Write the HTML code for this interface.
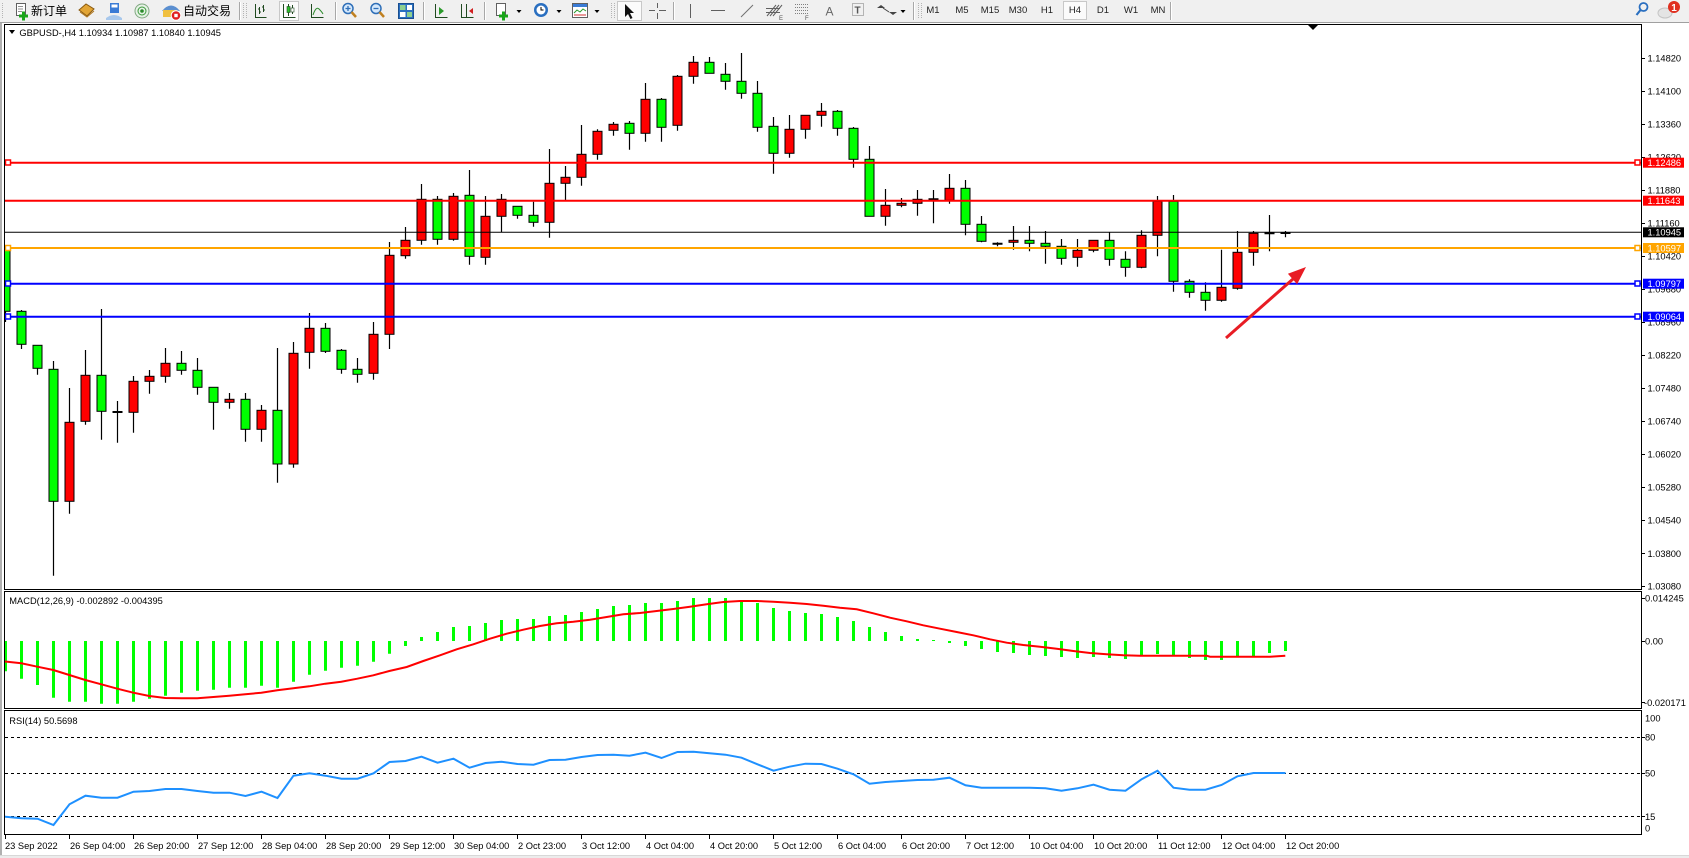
<!DOCTYPE html>
<html><head><meta charset="utf-8"><style>
html,body{margin:0;padding:0;background:#fff;}
body{width:1689px;height:858px;overflow:hidden;}
svg{display:block;}
</style></head><body>
<svg xmlns="http://www.w3.org/2000/svg" width="1689" height="858" viewBox="0 0 1689 858" font-family="'Liberation Sans', sans-serif">
<defs>
<clipPath id="cm"><rect x="5" y="25" width="1636" height="564"/></clipPath>
<clipPath id="cd"><rect x="5" y="592" width="1636" height="116"/></clipPath>
<clipPath id="cr"><rect x="5" y="712" width="1636" height="122"/></clipPath>
<style>
.r{fill:#ff0000;stroke:#000;stroke-width:1}
.g{fill:#00ff00;stroke:#000;stroke-width:1}
.ax{font-size:9.3px;fill:#000}
.tb{font-size:9.5px;fill:#222}
</style>
</defs>

<!-- ================= TOOLBAR ================= -->
<rect x="0" y="0" width="1689" height="22" fill="#f0f0f0"/>
<line x1="0" y1="22.5" x2="1689" y2="22.5" stroke="#a0a0a0"/>
<g stroke="#b4b4b4" stroke-dasharray="1 1">
<path d="M2.5 3v16M611.5 3v16M614.5 3v16M918.5 3v16M921.5 3v16M243.5 3v16M246.5 3v16"/>
</g>
<!-- new order -->
<rect x="16.5" y="3.5" width="9" height="12" fill="#fff" stroke="#606060"/>
<path d="M18 6.5h5M18 9h5M18 11.5h4" stroke="#909090"/>
<path d="M19 16h9M23.5 11.5v9" stroke="#1aa51a" stroke-width="3"/>
<text x="31" y="15" font-size="12" font-family="'Liberation Sans','Noto Sans CJK SC',sans-serif" fill="#000">新订单</text>
<!-- gold book -->
<path d="M79 10 L86 4 L94 9 L87 16 Z" fill="#e2a535" stroke="#8a5a10"/>
<path d="M80 12 L87 17 L94 11" fill="none" stroke="#b07820"/>
<!-- blue people -->
<path d="M106 18 q8 -6 16 0 v2 h-16z" fill="#a8c8ec"/>
<rect x="110" y="3" width="9" height="10" fill="#3a7bd5"/>
<rect x="111.5" y="4.5" width="6" height="3" fill="#fff"/>
<!-- antenna -->
<circle cx="142" cy="11" r="7" fill="#e6f2e6" stroke="#80a880"/>
<circle cx="142" cy="11" r="4" fill="none" stroke="#3a9a3a"/>
<circle cx="142" cy="11" r="1.8" fill="#2a8a2a"/>
<!-- auto trading -->
<path d="M162 11 q9 -11 18 0z" fill="#5b8fd0"/>
<rect x="163" y="10" width="14" height="7" fill="#f0c040"/>
<circle cx="176" cy="15.5" r="4.8" fill="#e02020" stroke="#fff"/>
<rect x="174.3" y="13.8" width="3.4" height="3.4" fill="#fff"/>
<text x="183" y="15" font-size="12" font-family="'Liberation Sans','Noto Sans CJK SC',sans-serif" fill="#000">自动交易</text>
<!-- separators -->
<g stroke="#a8a8a8"><path d="M239.5 2v18M335.5 2v18M423.5 2v18M484.5 2v18M673.5 2v18M913.5 2v18M1170.5 2v18"/></g>
<g stroke="#ffffff"><path d="M240.5 2v18M336.5 2v18M424.5 2v18M485.5 2v18M674.5 2v18M914.5 2v18M1171.5 2v18"/></g>
<!-- chart types -->
<path d="M255.5 4v13.5h11 M259.5 7v7 M258 9h1.5 M259.5 12h1.5 M263.5 5v7 M262 7h1.5 M263.5 10h1.5" stroke="#204a20" fill="none"/>
<rect x="279.5" y="1.5" width="19" height="19" fill="#fbfbfb" stroke="#c8c8c8"/>
<path d="M283.5 4v13.5h12" stroke="#204a20" fill="none"/>
<path d="M288.5 4v12M292.5 5v9" stroke="#204a20"/>
<rect x="287" y="6.5" width="3" height="6" fill="#2ac02a" stroke="#204a20" stroke-width="0.6"/>
<rect x="291" y="8" width="3" height="4" fill="#fff" stroke="#204a20" stroke-width="0.6"/>
<path d="M311.5 4v13.5h12" stroke="#204a20" fill="none"/>
<path d="M313 15 q3 -9 6 -6 t4 5" stroke="#2a8a2a" fill="none"/>
<!-- zoom in/out -->
<circle cx="348" cy="8.5" r="5" fill="#d4e8fc" stroke="#2f6fb8" stroke-width="1.5"/>
<path d="M351.5 12l4.5 5" stroke="#c08020" stroke-width="2.5"/>
<path d="M345.5 8.5h5M348 6v5" stroke="#2f6fb8" stroke-width="1.3"/>
<circle cx="376" cy="8.5" r="5" fill="#d4e8fc" stroke="#2f6fb8" stroke-width="1.5"/>
<path d="M379.5 12l4.5 5" stroke="#c08020" stroke-width="2.5"/>
<path d="M373.5 8.5h5" stroke="#2f6fb8" stroke-width="1.3"/>
<!-- tile -->
<rect x="398.5" y="3.5" width="15" height="15" fill="#2a6fc0" stroke="#1a4f90"/>
<rect x="400" y="5" width="5.5" height="5" fill="#8fd08f"/><rect x="407" y="5" width="5" height="5" fill="#fff"/>
<rect x="400" y="12" width="5.5" height="5" fill="#fff"/><rect x="407" y="12" width="5" height="5" fill="#8fd08f"/>
<!-- autoscroll / shift -->
<path d="M435.5 4v13.5h12" stroke="#204a20" fill="none"/>
<path d="M439 7l5 4-5 4z" fill="#2a9a2a"/>
<path d="M461.5 4v13.5h12 M466.5 4v13" stroke="#204a20" fill="none"/>
<path d="M473 8l-4 3 4 3z" fill="#d02020"/>
<!-- new chart -->
<rect x="496.5" y="3.5" width="9" height="12" fill="#fff" stroke="#606060"/>
<path d="M499 16h9M503.5 11.5v9" stroke="#1aa51a" stroke-width="3"/>
<path d="M516.5 10h5l-2.5 3z" fill="#000"/>
<!-- clock -->
<circle cx="541" cy="10" r="7" fill="#2a6fc0"/>
<circle cx="541" cy="10" r="4.5" fill="#fff"/>
<path d="M541 7v3h2.5" stroke="#000" fill="none"/>
<path d="M556.5 10h5l-2.5 3z" fill="#000"/>
<!-- templates -->
<rect x="572.5" y="3.5" width="15" height="14" fill="#fff" stroke="#606060"/>
<rect x="573" y="4" width="14" height="3" fill="#3a7bd5"/>
<path d="M574 13l3-3 3 2 3-3 3 2" stroke="#2a9a2a" fill="none"/>
<path d="M574 15h12" stroke="#d03030"/>
<path d="M594.5 10h5l-2.5 3z" fill="#000"/>
<!-- cursor -->
<rect x="617.5" y="1.5" width="24" height="19" fill="#fbfbfb" stroke="#c8c8c8"/>
<path d="M625 4v13l3-3 2.5 5 2-1-2.5-5h4z" fill="#111"/>
<!-- crosshair -->
<path d="M649 10.5h6M659 10.5h7M657.5 3v5M657.5 13v6" stroke="#606060"/>
<!-- line tools -->
<path d="M690.5 4v14" stroke="#606060"/>
<path d="M711 10.5h14" stroke="#606060"/>
<path d="M741 17l12-12" stroke="#707070"/>
<path d="M767 16l9-11M770 16l9-11M773 16l9-11M766 8.5h14M766 12.5h14" stroke="#606060"/>
<text x="779" y="20" font-size="6" fill="#555">E</text>
<path d="M795 4.5h13M795 7.5h13M795 10.5h13M795 13.5h13" stroke="#808080" stroke-dasharray="1 1"/>
<text x="805" y="20" font-size="6" fill="#555">F</text>
<text x="825.5" y="15.5" font-size="12" fill="#666">A</text>
<rect x="852.5" y="3.5" width="11" height="12" fill="none" stroke="#777" stroke-dasharray="1 1"/>
<text x="854.5" y="13.5" font-size="10" font-weight="bold" fill="#555">T</text>
<path d="M881 5l4 3h-8zM893 15l-4-3h8z" fill="#444"/>
<path d="M883 8l6 4" stroke="#444"/>
<path d="M900.5 10h5l-2.5 3z" fill="#000"/>
<!-- timeframes -->
<rect x="1063.5" y="1.5" width="23" height="18" fill="#fbfbfb" stroke="#c8c8c8"/>
<g class="tb" text-anchor="middle">
<text x="933" y="13">M1</text><text x="962" y="13">M5</text><text x="990" y="13">M15</text>
<text x="1018" y="13">M30</text><text x="1047" y="13">H1</text><text x="1075" y="13">H4</text>
<text x="1103" y="13">D1</text><text x="1131" y="13">W1</text><text x="1158" y="13">MN</text>
</g>
<!-- search & notification -->
<circle cx="1643.5" cy="7" r="4" fill="none" stroke="#2a6fc0" stroke-width="1.8"/>
<path d="M1640.5 10l-4 5" stroke="#2a6fc0" stroke-width="2.2"/>
<ellipse cx="1665" cy="13" rx="7" ry="5" fill="#e4e4e4" stroke="#c4c4c4"/>
<circle cx="1674" cy="7" r="6" fill="#e03020"/>
<text x="1674" y="11" font-size="10" font-weight="bold" fill="#fff" text-anchor="middle">1</text>

<!-- ================= WINDOW ================= -->
<rect x="0" y="23" width="2" height="835" fill="#b0b0b0"/>
<rect x="0" y="855" width="1689" height="3" fill="#ececec"/>
<line x1="0" y1="855.5" x2="1689" y2="855.5" stroke="#d8d8d8"/>

<!-- ================= MAIN CHART ================= -->
<g clip-path="url(#cm)">
<path stroke="#000" stroke-width="1.2" fill="none" d="M5.5 246V322M21.5 310V349M37.5 345.3V374.7M53.5 361V575.7M69.5 388V513.7M85.5 350V424.7M101.5 309V439.7M117.5 401V442.7M133.5 376V432.7M149.5 370V393.7M165.5 348V382.7M181.5 351V374.7M197.5 358V394.7M213.5 387.3V429.7M229.5 393V408.7M245.5 393V441.7M261.5 405V441.7M277.5 348V482.7M293.5 342V467.7M309.5 313V368.7M325.5 323V353M341.5 349V373.7M357.5 358V382.7M373.5 322V379.7M389.5 242V349M405.5 227V258.7M421.5 184V244.7M437.5 196V244.7M453.5 193V240.7M469.5 170V264.7M485.5 196V264.7M501.5 194V232M517.5 206.3V218.7M533.5 201.7V226.7M549.5 149V237.7M565.5 166V200M581.5 125V185.7M597.5 129.3V159.7M613.5 122V135.7M629.5 121V149.7M645.5 83V141.7M661.5 98V141.7M677.5 75V130.7M693.5 56V83.7M709.5 57V73.3M725.5 63V89.7M741.5 53V98.7M757.5 81V131.7M773.5 117V173.7M789.5 115V157.7M805.5 115.3V138.7M821.5 103V126.7M837.5 110V135.7M853.5 127V167.7M869.5 146V216.3M885.5 189V225.7M901.5 198V207.3M917.5 190V215.7M933.5 190V223.3M949.5 174V203.7M965.5 180V235.3M981.5 216V242.3M997.5 242.3V246.3M1013.5 226V249.7M1029.5 226V251.3M1045.5 231V263.7M1061.5 239V264.7M1077.5 239V266.7M1093.5 240.3V252.3M1109.5 232.3V265.7M1125.5 251.3V276.7M1141.5 230.3V268.3M1157.5 196V256.3M1173.5 195V291.7M1189.5 279.3V297.7M1205.5 282.3V310.7M1221.5 249.7V301.7M1237.5 231V289.7M1253.5 231V265.7M1269.5 215V251.3M1285.5 231V237.3"/>
<rect class="g" x="1" y="250" width="9" height="61.3"/>
<rect class="g" x="17" y="311.3" width="9" height="33"/>
<rect class="g" x="33" y="345.3" width="9" height="23"/>
<rect class="g" x="49" y="369.3" width="9" height="132"/>
<rect class="r" x="65" y="422.3" width="9" height="79"/>
<rect class="r" x="81" y="375.3" width="9" height="46"/>
<rect class="g" x="97" y="375.3" width="9" height="36"/>
<rect class="r" x="129" y="381.3" width="9" height="31"/>
<rect class="r" x="145" y="376.3" width="9" height="5"/>
<rect class="r" x="161" y="363.3" width="9" height="13"/>
<rect class="g" x="177" y="363.3" width="9" height="7"/>
<rect class="g" x="193" y="370.3" width="9" height="17"/>
<rect class="g" x="209" y="387.3" width="9" height="15"/>
<rect class="r" x="225" y="399.3" width="9" height="3"/>
<rect class="g" x="241" y="399.3" width="9" height="30"/>
<rect class="r" x="257" y="410.3" width="9" height="19"/>
<rect class="g" x="273" y="410.3" width="9" height="53.7"/>
<rect class="r" x="289" y="353.3" width="9" height="110.7"/>
<rect class="r" x="305" y="328.3" width="9" height="24"/>
<rect class="g" x="321" y="328.3" width="9" height="23"/>
<rect class="g" x="337" y="350.3" width="9" height="19"/>
<rect class="g" x="353" y="369.3" width="9" height="5"/>
<rect class="r" x="369" y="334.3" width="9" height="39"/>
<rect class="r" x="385" y="255.3" width="9" height="79"/>
<rect class="r" x="401" y="240.3" width="9" height="15.4"/>
<rect class="r" x="417" y="199.3" width="9" height="41"/>
<rect class="g" x="433" y="199.3" width="9" height="40"/>
<rect class="r" x="449" y="196.3" width="9" height="43"/>
<rect class="g" x="465" y="195.3" width="9" height="61"/>
<rect class="r" x="481" y="216.3" width="9" height="41"/>
<rect class="r" x="497" y="199.3" width="9" height="17"/>
<rect class="g" x="513" y="206.3" width="9" height="9"/>
<rect class="g" x="529" y="215.3" width="9" height="7"/>
<rect class="r" x="545" y="183.3" width="9" height="39"/>
<rect class="r" x="561" y="177.3" width="9" height="6"/>
<rect class="r" x="577" y="154.3" width="9" height="23"/>
<rect class="r" x="593" y="131.3" width="9" height="23"/>
<rect class="r" x="609" y="124.3" width="9" height="6"/>
<rect class="g" x="625" y="123.3" width="9" height="10"/>
<rect class="r" x="641" y="99.3" width="9" height="34"/>
<rect class="g" x="657" y="99.3" width="9" height="28"/>
<rect class="r" x="673" y="76.3" width="9" height="49"/>
<rect class="r" x="689" y="62.3" width="9" height="14"/>
<rect class="g" x="705" y="62.3" width="9" height="11"/>
<rect class="g" x="721" y="74.3" width="9" height="7"/>
<rect class="g" x="737" y="81.3" width="9" height="12"/>
<rect class="g" x="753" y="93.3" width="9" height="34"/>
<rect class="g" x="769" y="126.3" width="9" height="27"/>
<rect class="r" x="785" y="129.3" width="9" height="24"/>
<rect class="r" x="801" y="115.3" width="9" height="14"/>
<rect class="r" x="817" y="111.3" width="9" height="4"/>
<rect class="g" x="833" y="111.3" width="9" height="17"/>
<rect class="g" x="849" y="128.3" width="9" height="31"/>
<rect class="g" x="865" y="159.3" width="9" height="57"/>
<rect class="r" x="881" y="205.3" width="9" height="11"/>
<rect class="r" x="897" y="203.3" width="9" height="2"/>
<rect class="r" x="913" y="199.3" width="9" height="4"/>
<rect class="r" x="945" y="188.3" width="9" height="12"/>
<rect class="g" x="961" y="188.3" width="9" height="36"/>
<rect class="g" x="977" y="224.3" width="9" height="17"/>
<rect class="r" x="1009" y="240.3" width="9" height="2"/>
<rect class="g" x="1025" y="240.3" width="9" height="3"/>
<rect class="g" x="1041" y="243.3" width="9" height="3"/>
<rect class="g" x="1057" y="246.3" width="9" height="12"/>
<rect class="r" x="1073" y="250.3" width="9" height="7"/>
<rect class="r" x="1089" y="240.3" width="9" height="10"/>
<rect class="g" x="1105" y="240.3" width="9" height="19"/>
<rect class="g" x="1121" y="259.3" width="9" height="8"/>
<rect class="r" x="1137" y="235.3" width="9" height="32"/>
<rect class="r" x="1153" y="201.3" width="9" height="34"/>
<rect class="g" x="1169" y="201.3" width="9" height="80"/>
<rect class="g" x="1185" y="281.3" width="9" height="11"/>
<rect class="g" x="1201" y="292.3" width="9" height="8"/>
<rect class="r" x="1217" y="287.3" width="9" height="13"/>
<rect class="r" x="1233" y="252.3" width="9" height="36"/>
<rect class="r" x="1249" y="233.3" width="9" height="19"/>
<path stroke="#000" stroke-width="2" d="M112.5 412H122.5M928.5 199.3H938.5M992.5 243.7H1002.5M1264.5 233.3H1274.5M1280.5 233H1290.5"/>

<!-- horizontal levels -->
<line x1="4" y1="232.3" x2="1641" y2="232.3" stroke="#000" stroke-width="1"/>
<line x1="4" y1="162.7" x2="1641" y2="162.7" stroke="#ff0000" stroke-width="2"/>
<line x1="4" y1="200.7" x2="1641" y2="200.7" stroke="#ff0000" stroke-width="2"/>
<line x1="4" y1="248" x2="1641" y2="248" stroke="#ffa500" stroke-width="2"/>
<line x1="4" y1="283.7" x2="1641" y2="283.7" stroke="#0000ff" stroke-width="2"/>
<line x1="4" y1="316.7" x2="1641" y2="316.7" stroke="#0000ff" stroke-width="2"/>
<g fill="#fff" stroke-width="1.5">
<rect x="5.5" y="160" width="5" height="5" stroke="#ff0000"/>
<rect x="5.5" y="245.5" width="5" height="5" stroke="#ffa500"/>
<rect x="5.5" y="281" width="5" height="5" stroke="#0000ff"/>
<rect x="5.5" y="314" width="5" height="5" stroke="#0000ff"/>
<rect x="1635" y="160" width="5" height="5" stroke="#ff0000"/>
<rect x="1635" y="245.5" width="5" height="5" stroke="#ffa500"/>
<rect x="1635" y="281" width="5" height="5" stroke="#0000ff"/>
<rect x="1635" y="314" width="5" height="5" stroke="#0000ff"/>
</g>
<!-- arrow -->
<line x1="1226" y1="338" x2="1293" y2="279" stroke="#e81c24" stroke-width="3"/>
<polygon points="1306,267 1297.1,284.2 1287.9,273.8" fill="#e81c24"/>
</g>
<!-- shift marker -->
<polygon points="1308,25 1318,25 1313,30" fill="#000"/>
<!-- title -->
<polygon points="9,30 15,30 12,34" fill="#000"/>
<text x="19.4" y="35.8" class="ax">GBPUSD-,H4  1.10934 1.10987 1.10840 1.10945</text>

<!-- ================= MACD ================= -->
<g clip-path="url(#cd)">
<path fill="#00ff00" d="M4 641h3v30.3h-3zM20 641h3v37.7h-3zM36 641h3v44h-3zM52 641h3v56.7h-3zM68 641h3v60.7h-3zM84 641h3v60.7h-3zM100 641h3v62.7h-3zM116 641h3v62.7h-3zM132 641h3v60.7h-3zM148 641h3v57.7h-3zM164 641h3v54.7h-3zM180 641h3v51.7h-3zM196 641h3v49.7h-3zM212 641h3v48.7h-3zM228 641h3v46.7h-3zM244 641h3v46.7h-3zM260 641h3v44.7h-3zM276 641h3v46.7h-3zM292 641h3v40.7h-3zM308 641h3v33.7h-3zM324 641h3v29.7h-3zM340 641h3v26.7h-3zM356 641h3v24.7h-3zM372 641h3v20.7h-3zM388 641h3v12.7h-3zM404 641h3v5h-3zM420 637h3v4h-3zM436 632h3v9h-3zM452 627h3v14h-3zM468 626h3v15h-3zM484 623h3v18h-3zM500 620h3v21h-3zM516 619h3v22h-3zM532 619h3v22h-3zM548 616h3v25h-3zM564 615h3v26h-3zM580 612h3v29h-3zM596 609h3v32h-3zM612 606h3v35h-3zM628 605h3v36h-3zM644 603h3v38h-3zM660 603h3v38h-3zM676 601h3v40h-3zM692 598h3v43h-3zM708 598h3v43h-3zM724 598h3v43h-3zM740 600h3v41h-3zM756 603h3v38h-3zM772 608h3v33h-3zM788 611h3v30h-3zM804 613h3v28h-3zM820 614h3v27h-3zM836 617h3v24h-3zM852 621h3v20h-3zM868 627h3v14h-3zM884 632h3v9h-3zM900 636h3v5h-3zM916 639h3v2h-3zM932 640h3v1h-3zM948 641h3v2h-3zM964 641h3v5h-3zM980 641h3v8h-3zM996 641h3v11h-3zM1012 641h3v12h-3zM1028 641h3v14h-3zM1044 641h3v15h-3zM1060 641h3v16h-3zM1076 641h3v17h-3zM1092 641h3v16h-3zM1108 641h3v17h-3zM1124 641h3v18h-3zM1140 641h3v14h-3zM1156 641h3v13h-3zM1172 641h3v14h-3zM1188 641h3v17h-3zM1204 641h3v19h-3zM1220 641h3v19h-3zM1236 641h3v15h-3zM1252 641h3v15h-3zM1268 641h3v12h-3zM1284 641h3v10h-3z"/>
<polyline fill="none" stroke="#ff0000" stroke-width="2" points="4.5,661.5 21.3,663.3 37.3,666.7 53.3,670 69.3,675 85.3,680 101.3,684.3 117.3,688.7 133.3,692.7 149.3,696 165.3,698 181.3,698.3 197.3,698.3 213.3,697 229.3,695.7 245.3,694.3 261.3,692.7 277.3,690.3 293.3,688.3 309.3,686.3 325.3,683.7 341.3,681.7 357.3,678.7 373.3,675.3 389.3,671 406.7,667 423.3,661 440,655.3 456.7,649.3 473.3,644.3 490,638.7 506.7,633.7 523.3,629.7 540,626 556.7,623.3 573.3,621.7 590,619.7 606.7,617 623.3,614.3 640,613 656.7,611 673.3,609 690,606.7 706.7,604.3 723.3,602 740,601 756.7,601 773.3,601.7 790,602.7 806.7,604 823.3,605.7 840,607.7 856.7,609.3 873.3,613.3 890,617.7 906.7,621.3 923.3,625.3 940,628.7 956.7,632 973.3,635.3 990,639.3 1006.7,642.7 1023.3,645 1040,646.7 1056.7,648.7 1073.3,651 1090,653 1106.7,654.3 1123.3,655.3 1140,655.7 1206.7,655.7 1210,656.7 1270,656.7 1285.3,655.7"/>
</g>
<text x="9.3" y="604" class="ax">MACD(12,26,9) -0.002892 -0.004395</text>

<!-- ================= RSI ================= -->
<g stroke="#000" stroke-width="1" stroke-dasharray="3 3">
<line x1="5" y1="737.5" x2="1641" y2="737.5"/>
<line x1="5" y1="773.5" x2="1641" y2="773.5"/>
<line x1="5" y1="816.5" x2="1641" y2="816.5"/>
</g>
<g clip-path="url(#cr)">
<polyline fill="none" stroke="#1e90ff" stroke-width="2" points="4.5,816.5 5.5,816.7 21.5,818.3 37.5,818.7 53.5,825 69.5,804.3 85.5,795.7 101.5,797.7 117.5,797.7 133.5,791.7 149.5,791 165.5,789 181.5,789 197.5,791 213.5,792.7 229.5,792.7 245.5,796 261.5,791.7 277.5,798 293.5,775.7 309.5,773.3 325.5,775.7 341.5,778.7 357.5,778.7 373.5,773.3 389.5,762 405.5,761 421.5,756.7 437.5,762.7 453.5,758.7 469.5,767.7 485.5,763 501.5,761.7 517.5,764 533.5,764.7 549.5,760 565.5,759.7 581.5,757 597.5,755 613.5,754.7 629.5,755.7 645.5,752.7 661.5,758 677.5,752 693.5,751.7 709.5,753.3 725.5,754.7 741.5,757.7 757.5,764.3 773.5,770.7 789.5,766.7 805.5,763.7 821.5,764 837.5,768.7 853.5,774.3 869.5,783.7 885.5,782 901.5,781 917.5,780 933.5,779.7 949.5,777.7 965.5,785.3 981.5,787.7 997.5,787.7 1013.5,787.7 1029.5,787.7 1045.5,788.3 1061.5,790.7 1077.5,788.3 1093.5,784.7 1109.5,789.7 1125.5,790.7 1141.5,779.3 1157.5,770.7 1173.5,787.7 1189.5,789.7 1205.5,789.7 1221.5,785 1237.5,776.3 1253.5,773 1269.5,773 1285.5,773"/>
</g>
<text x="9.3" y="724" class="ax">RSI(14) 50.5698</text>

<!-- ================= FRAMES ================= -->
<g fill="none" stroke="#000" stroke-width="1">
<rect x="4.5" y="24.5" width="1637" height="565"/>
<rect x="4.5" y="591.5" width="1637" height="117"/>
<rect x="4.5" y="710.5" width="1637" height="124"/>
</g>

<!-- ================= PRICE AXIS ================= -->
<path stroke="#000" d="M1641 58.5h4M1641 91.5h4M1641 124.5h4M1641 157.5h4M1641 190.5h4M1641 223.5h4M1641 256.5h4M1641 289.5h4M1641 322.5h4M1641 355.5h4M1641 388.5h4M1641 421.5h4M1641 454.5h4M1641 487.5h4M1641 520.5h4M1641 553.5h4M1641 586.5h4M1641 598.5h4M1641 641.5h4M1641 702.5h4M1641 737.5h4M1641 773.5h4M1641 816.5h4"/>
<g class="ax">
<text x="1647.5" y="61.6">1.14820</text>
<text x="1647.5" y="94.6">1.14100</text>
<text x="1647.5" y="127.6">1.13360</text>
<text x="1647.5" y="160.6">1.12620</text>
<text x="1647.5" y="193.6">1.11880</text>
<text x="1647.5" y="226.7">1.11160</text>
<text x="1647.5" y="259.7">1.10420</text>
<text x="1647.5" y="292.7">1.09680</text>
<text x="1647.5" y="325.7">1.08960</text>
<text x="1647.5" y="358.7">1.08220</text>
<text x="1647.5" y="391.7">1.07480</text>
<text x="1647.5" y="424.7">1.06740</text>
<text x="1647.5" y="457.7">1.06020</text>
<text x="1647.5" y="490.7">1.05280</text>
<text x="1647.5" y="523.7">1.04540</text>
<text x="1647.5" y="556.8">1.03800</text>
<text x="1647.5" y="589.3">1.03080</text>
<text x="1645" y="601.7">0.014245</text>
<text x="1645" y="644.7">0.00</text>
<text x="1644" y="706">-0.020171</text>
<text x="1645" y="721.7">100</text>
<text x="1645" y="740.7">80</text>
<text x="1645" y="776.7">50</text>
<text x="1645" y="820">15</text>
<text x="1645" y="831.7">0</text>
</g>
<!-- price tags -->
<rect x="1643" y="157.7" width="41" height="10" fill="#ff0000"/>
<rect x="1643" y="195.7" width="41" height="10" fill="#ff0000"/>
<rect x="1643" y="227.3" width="41" height="10" fill="#000"/>
<rect x="1643" y="243" width="41" height="10" fill="#ffa500"/>
<rect x="1643" y="278.7" width="41" height="10" fill="#0000ff"/>
<rect x="1643" y="311.7" width="41" height="10" fill="#0000ff"/>
<g class="ax" style="fill:#fff">
<text x="1647.5" y="166">1.12486</text>
<text x="1647.5" y="204">1.11643</text>
<text x="1647.5" y="235.6">1.10945</text>
<text x="1647.5" y="251.3">1.10597</text>
<text x="1647.5" y="287">1.09797</text>
<text x="1647.5" y="320">1.09064</text>
</g>

<!-- ================= TIME AXIS ================= -->
<path stroke="#000" d="M5.5 835v4M69.5 835v4M133.5 835v4M197.5 835v4M261.5 835v4M325.5 835v4M389.5 835v4M453.5 835v4M517.5 835v4M581.5 835v4M645.5 835v4M709.5 835v4M773.5 835v4M837.5 835v4M901.5 835v4M965.5 835v4M1029.5 835v4M1093.5 835v4M1157.5 835v4M1221.5 835v4M1285.5 835v4"/>
<g class="ax">
<text x="5" y="849">23 Sep 2022</text>
<text x="70" y="849">26 Sep 04:00</text>
<text x="134" y="849">26 Sep 20:00</text>
<text x="198" y="849">27 Sep 12:00</text>
<text x="262" y="849">28 Sep 04:00</text>
<text x="326" y="849">28 Sep 20:00</text>
<text x="390" y="849">29 Sep 12:00</text>
<text x="454" y="849">30 Sep 04:00</text>
<text x="518" y="849">2 Oct 23:00</text>
<text x="582" y="849">3 Oct 12:00</text>
<text x="646" y="849">4 Oct 04:00</text>
<text x="710" y="849">4 Oct 20:00</text>
<text x="774" y="849">5 Oct 12:00</text>
<text x="838" y="849">6 Oct 04:00</text>
<text x="902" y="849">6 Oct 20:00</text>
<text x="966" y="849">7 Oct 12:00</text>
<text x="1030" y="849">10 Oct 04:00</text>
<text x="1094" y="849">10 Oct 20:00</text>
<text x="1158" y="849">11 Oct 12:00</text>
<text x="1222" y="849">12 Oct 04:00</text>
<text x="1286" y="849">12 Oct 20:00</text>
</g>
</svg>
</body></html>
